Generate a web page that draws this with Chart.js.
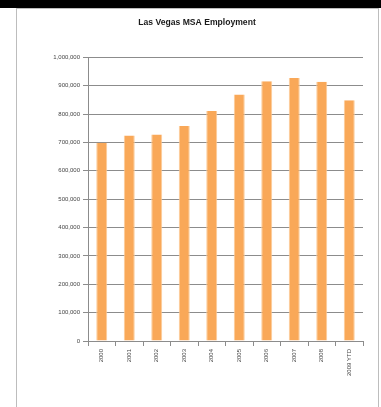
<!DOCTYPE html>
<html>
<head>
<meta charset="utf-8">
<title>Las Vegas MSA Employment</title>
<script src="https://cdn.jsdelivr.net/npm/chart.js@4"></script>
<style>
    html, body { margin: 0; padding: 0; background: #fff; }
    body { width: 381px; height: 407px; position: relative; overflow: hidden; }
    #topBand { position: absolute; left: 0; top: 0; width: 381px; height: 8px; background: #000; }
    #frame {
        position: absolute; left: 16px; top: 8px; width: 361px; height: 410px;
        border: 1px solid #bdbdbd;
    }
    #employmentChart { position: absolute; left: 0; top: 0; }
</style>
</head>
<body>
<div id="topBand"></div>
<div id="frame">
    <canvas id="employmentChart" width="360" height="398"></canvas>
</div>
<script>
// Annual employment, Las Vegas MSA
const years = ['2000', '2001', '2002', '2003', '2004', '2005', '2006', '2007', '2008', '2009 YTD'];
const employment = [699000, 724000, 728000, 758000, 811000, 869000, 916000, 927000, 914000, 849000];
const yTicks = [0, 100000, 200000, 300000, 400000, 500000, 600000, 700000, 800000, 900000, 1000000];

document.addEventListener('DOMContentLoaded', function() {
    const ctx = document.getElementById('employmentChart').getContext('2d');
    const labelFont = { family: 'Liberation Sans', size: 6 };

    new Chart(ctx, {
        type: 'bar',
        data: {
            labels: years,
            datasets: [{
                label: 'Employment',
                data: employment,
                backgroundColor: '#F9A858',
                borderColor: '#FCCB98',
                borderWidth: { left: 1, right: 1, top: 0, bottom: 0 },
                borderSkipped: false,
                barPercentage: 0.4,
                categoryPercentage: 1
            }]
        },
        options: {
            responsive: false,
            animation: false,
            devicePixelRatio: 1,
            // equal side padding keeps the title centred in the frame
            layout: { padding: { left: 14, right: 14, top: 0, bottom: 0 } },
            plugins: {
                legend: { display: false },
                tooltip: { enabled: false },
                title: {
                    display: true,
                    text: 'Las Vegas MSA Employment',
                    color: '#1a1a1a',
                    font: { family: 'Liberation Sans', size: 8.6, weight: 'bold', lineHeight: 1.2 },
                    padding: { top: 8, bottom: 30 }
                }
            },
            scales: {
                x: {
                    grid: {
                        drawOnChartArea: false,
                        drawTicks: true,
                        tickLength: 5,
                        color: '#8c8c8c'
                    },
                    border: { color: '#8c8c8c' },
                    ticks: {
                        color: '#444',
                        font: labelFont,
                        padding: 3,
                        minRotation: 90,
                        maxRotation: 90,
                        autoSkip: false
                    },
                    afterFit: function(scale) { scale.height = 66; }
                },
                y: {
                    min: 0,
                    max: 1000000,
                    afterBuildTicks: function(scale) {
                        scale.ticks = yTicks.map(v => ({ value: v }));
                    },
                    grid: {
                        color: '#8c8c8c',
                        tickLength: 5
                    },
                    border: { color: '#8c8c8c' },
                    ticks: {
                        color: '#444',
                        font: labelFont,
                        padding: 3,
                        callback: function(value) { return value.toLocaleString('en-US'); }
                    },
                    afterFit: function(scale) { scale.width = 57; }
                }
            }
        }
    });
});
</script>
</body>
</html>
